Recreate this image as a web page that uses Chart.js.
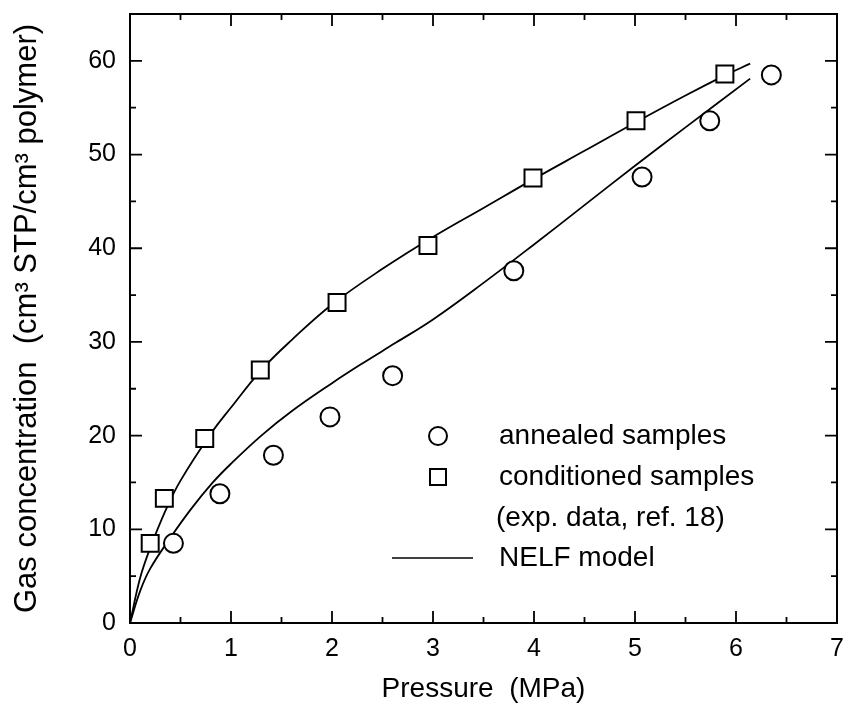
<!doctype html>
<html>
<head>
<script src="https://cdn.jsdelivr.net/npm/chart.js"></script>
<style>
  html, body { margin: 0; padding: 0; background: #fff; }
  #wrap { width: 851px; height: 717px; }
</style>
</head>
<body>
<div id="wrap"><canvas id="sorption"></canvas></div>
<script>
// experimental data (ref. 18)
var annealedP = [0.43, 0.89, 1.42, 1.98, 2.60, 3.80, 5.07, 5.74, 6.35];
var annealedC = [8.5, 13.8, 17.9, 22.0, 26.4, 37.6, 47.6, 53.6, 58.5];
var conditionedP = [0.20, 0.34, 0.74, 1.29, 2.05, 2.95, 3.99, 5.01, 5.89];
var conditionedC = [8.5, 13.3, 19.7, 27.0, 34.2, 40.3, 47.5, 53.6, 58.6];

// NELF model curves
var nelfCondP = [0, 0.1, 0.2, 0.36, 0.5, 0.8, 1.0, 1.3, 1.6, 2.0, 2.5, 3.0, 3.5, 4.0, 4.5, 5.0, 5.5, 5.9, 6.14];
var nelfCondC = [0, 4.8, 8.0, 12.2, 15.2, 20.2, 23.0, 27.0, 30.2, 34.0, 37.8, 41.2, 44.3, 47.4, 50.4, 53.4, 56.3, 58.5, 59.7];
var nelfAnnP = [0, 0.1, 0.2, 0.4, 0.6, 0.82, 1.0, 1.3, 1.6, 2.0, 2.3, 2.63, 3.0, 3.5, 4.0, 4.5, 5.0, 5.5, 6.14];
var nelfAnnC = [0, 3.4, 5.8, 9.1, 12.1, 15.0, 17.0, 20.0, 22.6, 25.6, 27.7, 29.9, 32.4, 36.3, 40.4, 44.6, 48.8, 52.9, 58.1];

var xTicks = [0, 1, 2, 3, 4, 5, 6, 7];
var yTicks = [0, 10, 20, 30, 40, 50, 60];

function pts(xs, ys) {
  return xs.map(function (x, i) { return {x: x, y: ys[i]}; });
}

var FONT = "'Liberation Sans', Arial, sans-serif";

// inward tick marks on all four sides + frame
var frameTicks = {
  id: 'frameTicks',
  afterDraw: function (chart) {
    var ctx = chart.ctx, a = chart.chartArea;
    var xs = chart.scales.x, ys = chart.scales.y;
    ctx.save();
    ctx.strokeStyle = '#000';
    ctx.lineWidth = 2;
    ctx.strokeRect(a.left, a.top, a.right - a.left, a.bottom - a.top);
    ctx.lineWidth = 1.8;
    ctx.beginPath();
    for (var v = 0.5; v < 7; v += 0.5) {
      var len = (v % 1 === 0) ? 12 : 6;
      var px = xs.getPixelForValue(v);
      ctx.moveTo(px, a.bottom); ctx.lineTo(px, a.bottom - len);
      ctx.moveTo(px, a.top); ctx.lineTo(px, a.top + len);
    }
    for (var w = 5; w < 65; w += 5) {
      var l2 = (w % 10 === 0) ? 12 : 6;
      var py = ys.getPixelForValue(w);
      ctx.moveTo(a.left, py); ctx.lineTo(a.left + l2, py);
      ctx.moveTo(a.right, py); ctx.lineTo(a.right - l2, py);
    }
    ctx.stroke();
    ctx.restore();
  }
};

// legend drawn inside the plot
var innerLegend = {
  id: 'innerLegend',
  afterDraw: function (chart) {
    var ctx = chart.ctx;
    ctx.save();
    ctx.strokeStyle = '#000';
    ctx.fillStyle = '#000';
    ctx.lineWidth = 2;
    ctx.beginPath();
    ctx.arc(438, 436, 9, 0, Math.PI * 2);
    ctx.stroke();
    ctx.strokeRect(430, 469, 16, 16);
    ctx.lineWidth = 1.6;
    ctx.beginPath();
    ctx.moveTo(392, 558); ctx.lineTo(473, 558);
    ctx.stroke();
    ctx.font = '28px ' + FONT;
    ctx.textBaseline = 'middle';
    ctx.fillText('annealed samples', 499, 436);
    ctx.fillText('conditioned samples', 499, 477);
    ctx.fillText('(exp. data, ref. 18)', 496, 518);
    ctx.fillText('NELF model', 499, 558);
    ctx.restore();
  }
};

new Chart(document.getElementById('sorption'), {
  type: 'scatter',
  data: {
    datasets: [{
      label: 'annealed samples',
      data: pts(annealedP, annealedC),
      pointStyle: 'circle',
      pointRadius: 9.5,
      pointBorderWidth: 2,
      borderColor: '#000',
      backgroundColor: '#fff'
    }, {
      label: 'conditioned samples',
      data: pts(conditionedP, conditionedC),
      pointStyle: 'rect',
      pointRadius: 12,
      pointBorderWidth: 2,
      borderColor: '#000',
      backgroundColor: '#fff'
    }, {
      label: 'NELF model (conditioned)',
      data: pts(nelfCondP, nelfCondC),
      showLine: true,
      pointRadius: 0,
      borderColor: '#000',
      borderWidth: 1.8,
      tension: 0.4
    }, {
      label: 'NELF model (annealed)',
      data: pts(nelfAnnP, nelfAnnC),
      showLine: true,
      pointRadius: 0,
      borderColor: '#000',
      borderWidth: 1.8,
      tension: 0.4
    }]
  },
  options: {
    responsive: true,
    maintainAspectRatio: false,
    animation: false,
    layout: { padding: { top: 12, right: 13, left: 0, bottom: 0 } },
    plugins: {
      legend: { display: false },
      tooltip: { enabled: false }
    },
    scales: {
      x: {
        type: 'linear',
        min: 0, max: 7,
        afterFit: function (s) { s.height = 94; s.paddingLeft = 0; s.paddingRight = 0; },
        afterBuildTicks: function (s) { s.ticks = xTicks.map(function (v) { return {value: v}; }); },
        grid: { display: false, drawTicks: false },
        border: { display: false },
        ticks: { color: '#000', font: { family: FONT, size: 25 }, padding: 11, maxRotation: 0 },
        title: { display: true, text: 'Pressure  (MPa)', color: '#000', font: { family: FONT, size: 28 }, padding: { top: 0, bottom: 11 } }
      },
      y: {
        type: 'linear',
        min: 0, max: 65,
        afterFit: function (s) { s.width = 130; s.paddingTop = 0; s.paddingBottom = 0; },
        afterBuildTicks: function (s) { s.ticks = yTicks.map(function (v) { return {value: v}; }); },
        grid: { display: false, drawTicks: false },
        border: { display: false },
        ticks: { color: '#000', font: { family: FONT, size: 25 }, padding: 14 },
        title: { display: true, text: 'Gas concentration  (cm\u00b3 STP/cm\u00b3 polymer)', color: '#000', font: { family: FONT, size: 31 }, padding: { top: 9, bottom: 0 } }
      }
    }
  },
  plugins: [frameTicks, innerLegend]
});
</script>
</body>
</html>
